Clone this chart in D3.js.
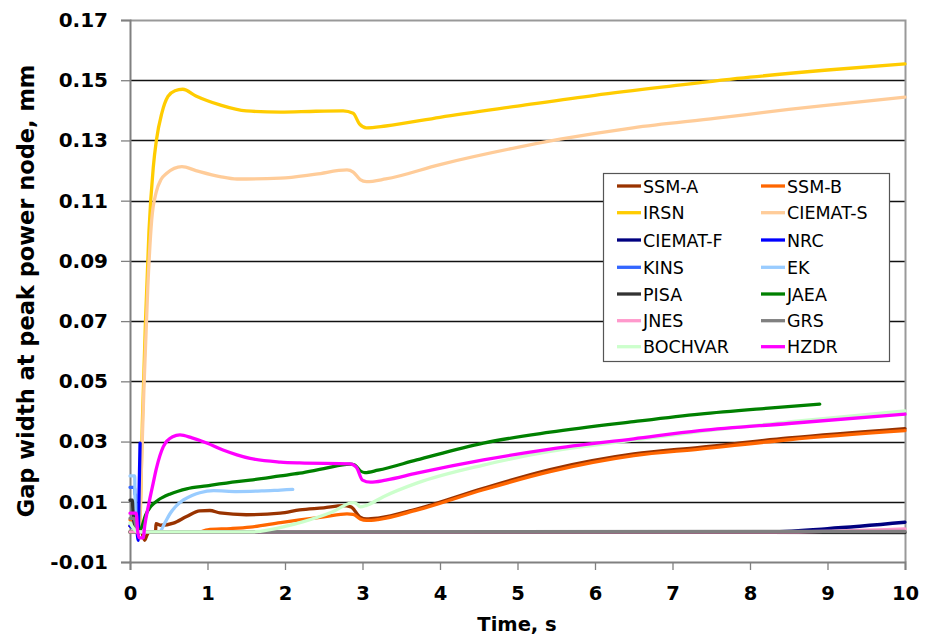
<!DOCTYPE html>
<html><head><meta charset="utf-8">
<script src="https://cdn.jsdelivr.net/npm/d3@7"></script>
<style>body{margin:0;background:#fff}svg{display:block}text{font-family:"DejaVu Sans",Verdana,sans-serif}</style>
</head><body><svg id="c" width="925" height="637"></svg>
<script>
// ---- data (time s, gap width mm) ----
const xTicks = [0,1,2,3,4,5,6,7,8,9,10];
const yTicks = [-0.01,0.01,0.03,0.05,0.07,0.09,0.11,0.13,0.15,0.17];
const seriesNames = ["SSM-A","SSM-B","IRSN","CIEMAT-S","CIEMAT-F","NRC","KINS","EK","PISA","JAEA","JNES","GRS","BOCHVAR","HZDR"];
const seriesColors = ["#993300","#FF6600","#FFCC00","#FFCC99","#000080","#0000FF","#3366FF","#99CCFF","#333333","#008000","#FF99CC","#808080","#CCFFCC","#FF00FF"];

const ssmA = [[0,0.002],[0.08,0.0015],[0.15,0],[0.19,-0.0028],[0.22,-0.001],[0.25,0],[0.33,0],[0.335,0.0027],[0.4,0.0022],[0.56,0.0029],[0.73,0.0051],[0.9,0.007],[1.03,0.0071],[1.16,0.0063],[1.5,0.0057],[1.94,0.0062],[2.19,0.0073],[2.5,0.008],[2.75,0.0087],[2.85,0.0083],[2.97,0.0049],[3.05,0.0043],[3.2,0.0046],[3.7,0.0076],[4.56,0.0145],[5.42,0.0207],[6.5,0.0259],[7.35,0.0281],[8.5,0.0312],[10,0.0343]];
const ssmB = [[0,0.004],[0.06,0.004],[0.1,0],[0.9,0],[1.0,0.0007],[1.3,0.0011],[1.55,0.0016],[1.94,0.0031],[2.19,0.004],[2.5,0.005],[2.8,0.006],[2.88,0.0058],[2.97,0.0043],[3.05,0.0038],[3.2,0.0041],[3.7,0.0072],[4.56,0.014],[5.42,0.02],[6.5,0.0253],[7.35,0.0275],[8.5,0.0306],[10,0.0336]];
const irsn = [[0,0],[0.12,0],[0.13,0.004],[0.16,0.037],[0.2,0.07],[0.245,0.1],[0.3,0.121],[0.34,0.13],[0.41,0.139],[0.49,0.1446],[0.58,0.1465],[0.68,0.147],[0.85,0.1448],[1.0,0.1432],[1.16,0.1418],[1.5,0.1398],[1.94,0.1394],[2.4,0.1397],[2.75,0.1398],[2.88,0.139],[2.96,0.1355],[3.05,0.1342],[3.3,0.1348],[4,0.1377],[5,0.1414],[6,0.145],[7,0.1481],[8,0.151],[9,0.1534],[10,0.1554]];
const ciematS = [[0,0],[0.12,0],[0.14,0.015],[0.18,0.048],[0.23,0.0815],[0.28,0.1036],[0.34,0.113],[0.4,0.117],[0.47,0.119],[0.67,0.1213],[0.85,0.12],[1.16,0.118],[1.38,0.1172],[1.94,0.1175],[2.4,0.1188],[2.8,0.1202],[2.88,0.1195],[2.97,0.117],[3.05,0.1163],[3.3,0.1172],[4,0.122],[5,0.1277],[5.55,0.1304],[6.49,0.1342],[7.57,0.1374],[8.5,0.1403],[9.2,0.1422],[10,0.1444]];
const ciematF = [[0,0],[8.2,0],[9,0.0011],[10,0.0032]];
const nrc = [[0,0.002],[0.09,0],[0.105,-0.0028],[0.115,0.01],[0.13,0.0295]];
const kins = [[0,0.0148],[0.06,0.0148],[0.065,0.0125],[0.072,0.0123],[0.085,0]];
const ek = [[0,0.0186],[0.06,0.0186],[0.07,0.003],[0.1,0],[0.38,0],[0.45,0.003],[0.52,0.0062],[0.6,0.0087],[0.69,0.0106],[0.8,0.0121],[0.9,0.013],[1.08,0.0137],[1.38,0.0134],[1.7,0.0136],[1.94,0.0139],[2.1,0.0141]];
const pisa = [[0,0.0105],[0.03,0.0105],[0.04,0.006],[0.08,0],[10,-0.0002]];
const jaea = [[0,0],[0.1,0],[0.15,0.0015],[0.2,0.0055],[0.27,0.0085],[0.36,0.0105],[0.52,0.0126],[0.62,0.0135],[0.73,0.0143],[0.99,0.0153],[1.38,0.0167],[1.55,0.0172],[1.94,0.0186],[2.19,0.0195],[2.5,0.021],[2.84,0.0225],[2.9,0.0222],[2.97,0.0203],[3.03,0.0197],[3.2,0.0205],[3.7,0.0239],[4.56,0.0295],[5.42,0.0331],[6.5,0.0366],[7.35,0.0391],[8.2,0.041],[8.9,0.0424]];
const jnes = [[0,0],[8.5,0],[10,0.001]];
const grs = [[0,0.0045],[0.05,0.0045],[0.1,0],[10,0.0002]];
const bochvar = [[0,0.003],[0.1,0],[1.6,0],[1.68,0.0002],[2.0,0.0018],[2.24,0.0034],[2.6,0.0065],[2.88,0.0097],[2.93,0.0092],[2.97,0.0083],[3.05,0.0088],[3.27,0.0117],[3.7,0.0162],[4.56,0.0222],[5.42,0.0267],[6.5,0.0305],[7.35,0.0333],[8.5,0.0365],[10,0.0402]];
const hzdr = [[0,0.0062],[0.08,0.0062],[0.1,0],[0.12,-0.002],[0.17,-0.002],[0.19,0.002],[0.24,0.009],[0.3,0.0163],[0.34,0.021],[0.43,0.0283],[0.55,0.0316],[0.645,0.0322],[0.8,0.0312],[0.99,0.0295],[1.2,0.0272],[1.38,0.0256],[1.55,0.0244],[1.94,0.0232],[2.19,0.0229],[2.84,0.0226],[2.92,0.0215],[3.0,0.0172],[3.1,0.0165],[3.3,0.0172],[3.7,0.0195],[4.56,0.0239],[5.42,0.0275],[6.5,0.0309],[7.35,0.0336],[8.5,0.036],[10,0.0391]];
const seriesData = [ssmA,ssmB,irsn,ciematS,ciematF,nrc,kins,ek,pisa,jaea,jnes,grs,bochvar,hzdr];

// ---- chart ----
const svg = d3.select("#c");
const L=130,R=905,T=20,B=562;
const x = d3.scaleLinear().domain([0,10]).range([L,R]);
const y = d3.scaleLinear().domain([-0.01,0.17]).range([B,T]);

// gridlines
svg.append("g").selectAll("line").data(yTicks.filter(d=>d>-0.005&&d<0.165)).join("line")
  .attr("x1",L).attr("x2",R).attr("y1",d=>Math.round(y(d))+0.5).attr("y2",d=>Math.round(y(d))+0.5)
  .attr("stroke","#111").attr("stroke-width",1.3);
// border top/right
svg.append("path").attr("d",`M${L},${T+0.5}H${R+0.5}V${B}`).attr("fill","none").attr("stroke","#999").attr("stroke-width",2);

// axes
const fmtY = d => d3.format(".2f")(d).replace("\u2212","-");
const yAxis = d3.axisLeft(y).tickValues(yTicks).tickFormat(fmtY).tickSize(9).tickPadding(13);
const gy = svg.append("g").attr("transform",`translate(${L},0)`).call(yAxis);
const xAxis = d3.axisBottom(x).tickValues(xTicks).tickFormat(d3.format("d")).tickSize(8).tickPadding(16);
const gx = svg.append("g").attr("transform",`translate(0,${B})`).call(xAxis);
[gx,gy].forEach(g=>{
  g.select(".domain").attr("stroke","#808080").attr("stroke-width",2);
  g.selectAll(".tick line").attr("stroke","#808080").attr("stroke-width",1.3);
  g.selectAll(".tick text").attr("fill","#000").style("font-weight","bold").style("font-family","'DejaVu Sans',Verdana,sans-serif");
});
gy.selectAll(".tick text").style("font-size","20px");
gx.selectAll(".tick text").style("font-size","19.5px");

// series
const line = d3.line().x(d=>x(d[0])).y(d=>y(d[1])).curve(d3.curveMonotoneX);
svg.append("g").selectAll("path").data(seriesData).join("path")
  .attr("d",line).attr("fill","none").attr("stroke",(d,i)=>seriesColors[i])
  .attr("stroke-width",3.3).attr("stroke-linejoin","round").attr("stroke-linecap","round");

// axis titles
svg.append("text").attr("x",517).attr("y",631).attr("text-anchor","middle")
  .style("font-weight","bold").style("font-size","19.5px").text("Time, s");
svg.append("text").attr("transform","translate(34,291) rotate(-90)").attr("text-anchor","middle")
  .style("font-weight","bold").style("font-size","22.5px").text("Gap width at peak power node, mm");

// legend
const lg = svg.append("g");
lg.append("rect").attr("x",603.5).attr("y",173.5).attr("width",286).attr("height",188)
  .attr("fill","#fff").attr("stroke","#555").attr("stroke-width",1.2);
const rowY = [186,212.7,240,267.3,294,320.7,346.7];
seriesNames.forEach((n,i)=>{
  const col=i%2,row=Math.floor(i/2);
  const lx = col? 761:617;
  const ly = rowY[row];
  lg.append("line").attr("x1",lx).attr("x2",lx+24).attr("y1",ly).attr("y2",ly)
    .attr("stroke",seriesColors[i]).attr("stroke-width",3.3);
  lg.append("text").attr("x",lx+26).attr("y",ly+6.5).style("font-size","17.5px").attr("fill","#000").text(n);
});
</script></body></html>
